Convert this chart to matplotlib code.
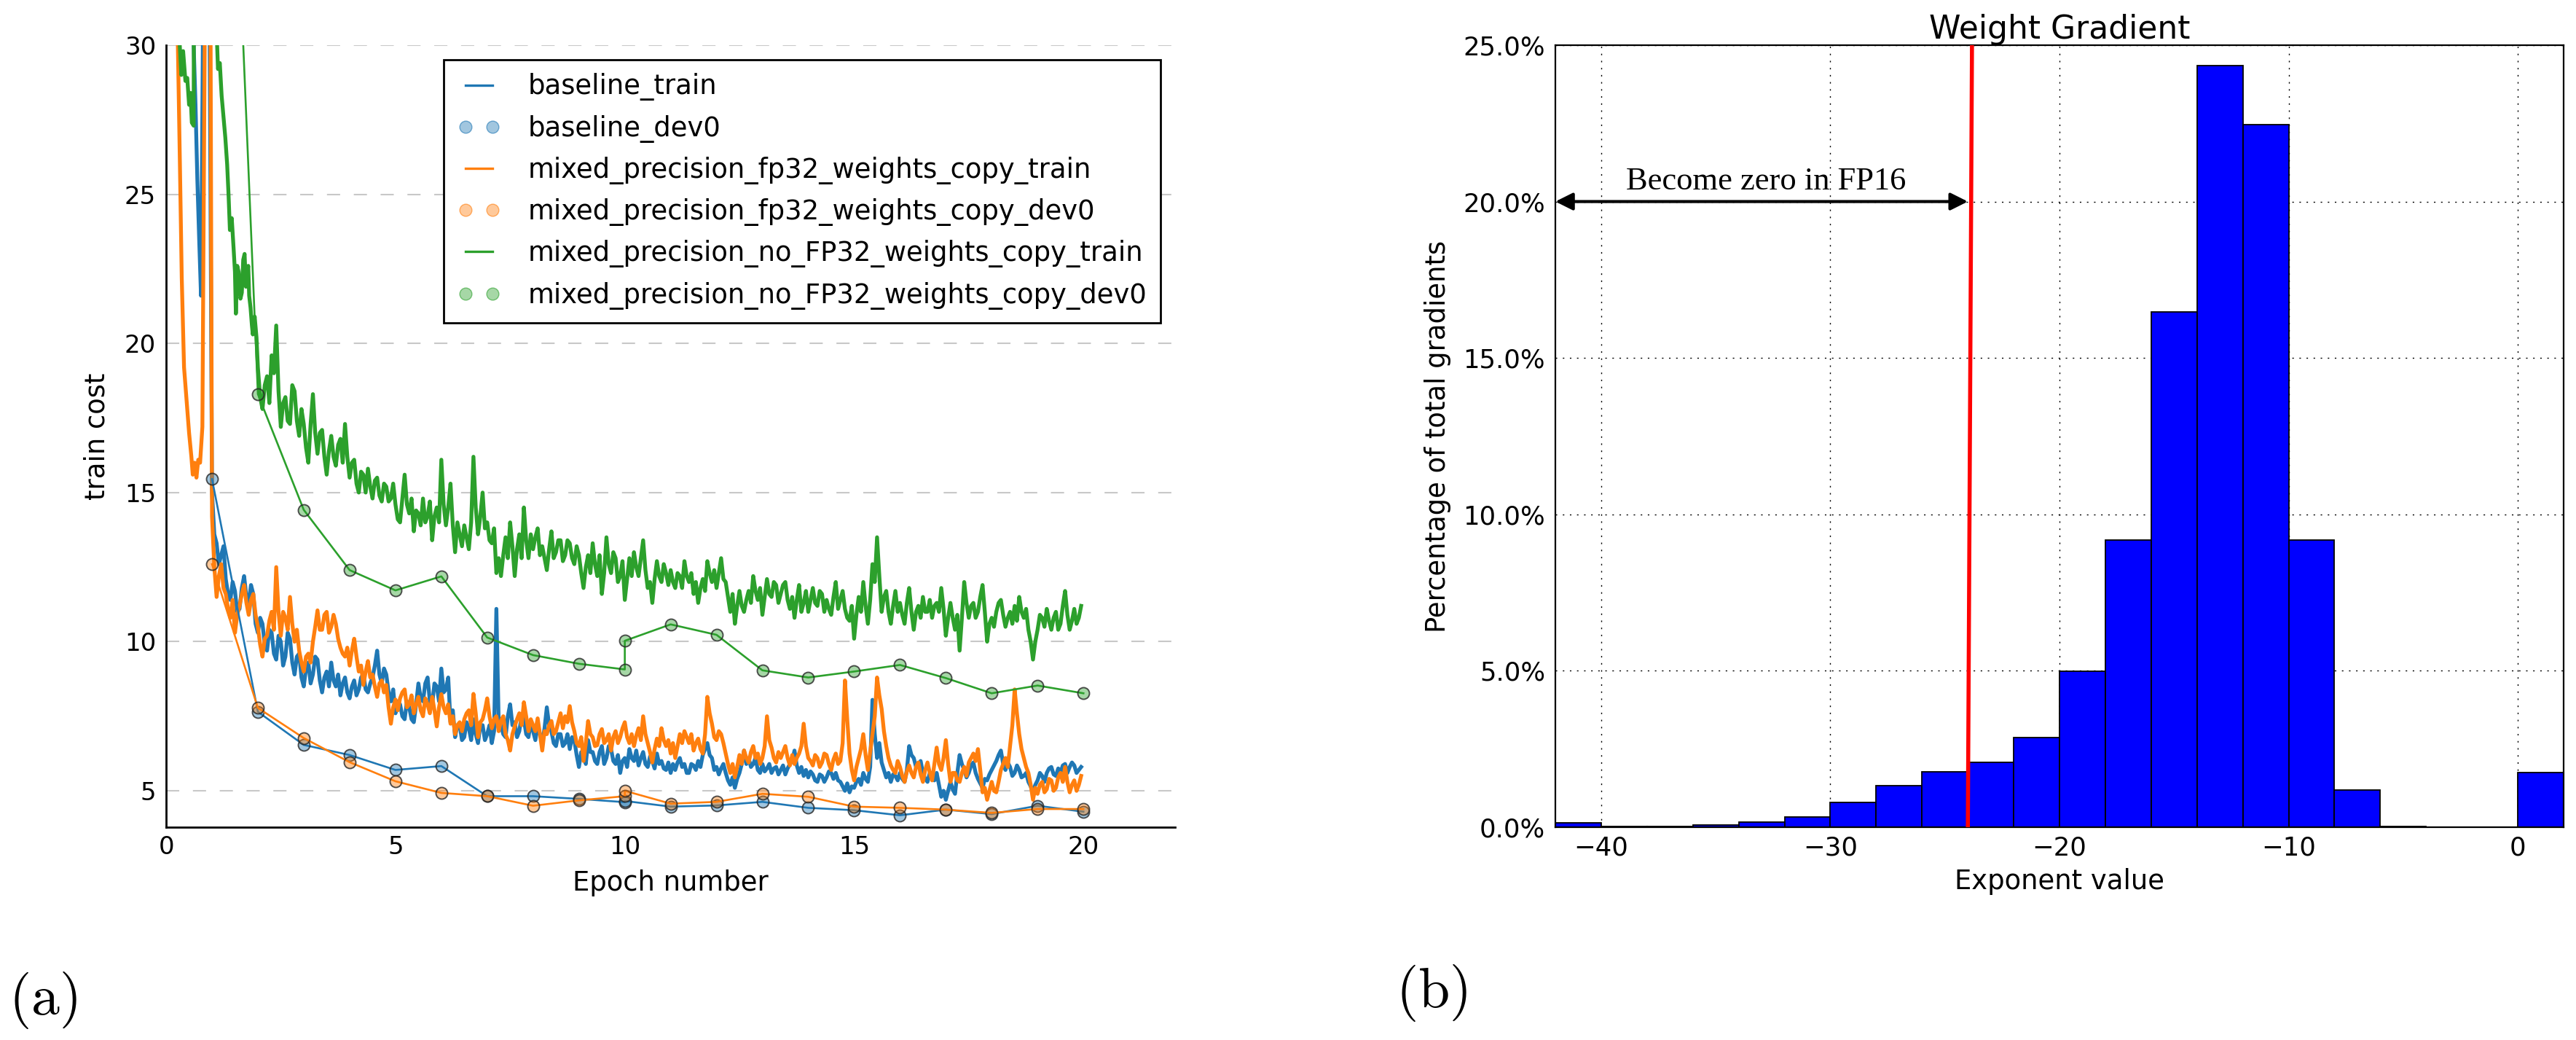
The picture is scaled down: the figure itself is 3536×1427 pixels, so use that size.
import numpy as np
import matplotlib
matplotlib.use('Agg')
import matplotlib.pyplot as plt
from matplotlib.lines import Line2D
from matplotlib.colors import to_rgba
from matplotlib.ticker import FuncFormatter

plt.rcParams['mathtext.fontset'] = 'cm'
plt.rcParams['lines.scale_dashes'] = False
plt.rcParams['font.family'] = ['DejaVu Sans']

# ---------------- data: panel (a) ----------------
epochs_main = np.round(np.arange(1.0, 19.95, 0.1), 2)      # 1.0 .. 19.9
epochs_main_mid = np.round(np.arange(1.05, 20.0, 0.1), 2)  # 1.05 .. 19.95
epochs_green = np.round(np.arange(2.0, 19.95, 0.1), 2)     # 2.0 .. 19.9
epochs_green_mid = np.round(np.arange(2.05, 20.0, 0.1), 2) # 2.05 .. 19.95

blue_early_x = [0.0, 0.2, 0.4, 0.5, 0.56, 0.6, 0.64, 0.68, 0.72, 0.76, 0.8, 0.85, 0.9, 0.95]
blue_early_y = [70, 52, 40, 35, 32, 30, 28, 25.5, 23.5, 21.6, 30, 48, 55, 30]

orange_early_x = [0.0, 0.15, 0.25, 0.3, 0.34, 0.39, 0.45, 0.5, 0.55, 0.58, 0.62, 0.66, 0.7,
                  0.74, 0.79, 0.84, 0.88, 0.92, 0.96]
orange_early_y = [90, 45, 30.5, 26, 22.2, 19.2, 18.0, 17.0, 16.2, 15.6, 16.0, 15.5, 16.1,
                  16.0, 17.2, 30, 55, 65, 35]

green_early_x = [0.0, 0.15, 0.25, 0.29, 0.33, 0.37, 0.42, 0.46, 0.5, 0.53, 0.56, 0.6, 0.62,
                 0.7, 0.8, 0.9, 1.0, 1.05, 1.1, 1.13, 1.17, 1.21, 1.25, 1.29, 1.33, 1.36,
                 1.39, 1.43, 1.47, 1.5, 1.52, 1.55, 1.58, 1.62, 1.65, 1.68, 1.71, 1.74,
                 1.76, 1.79, 1.81, 1.84, 1.87, 1.89, 1.93, 1.97]
green_early_y = [60, 40, 32, 30.2, 29.0, 29.8, 28.8, 28.9, 28.0, 28.4, 27.4, 27.3, 45,
                 80, 90, 70, 45, 35, 30.5, 29.2, 29.4, 28.3, 27.6, 26.9, 26.0, 25.0,
                 23.8, 24.2, 23.2, 22.4, 21.0, 22.6, 22.4, 21.5, 21.7, 22.8, 23.0, 21.9,
                 22.3, 22.6, 21.6, 21.2, 20.6, 20.3, 20.9, 20.2]

baseline_train = [
    15.0, 13.3, 12.9, 12.1, 11.4, 11.7, 11.1, 12.2, 11.3, 11.6,
    10.3, 10.6, 9.7, 10.3, 9.4, 10.0, 9.5, 10.1, 8.9, 9.6,
    8.5, 9.3, 8.9, 9.4, 8.3, 9.0, 9.3, 8.5, 8.2, 8.8,
    8.1, 8.7, 8.4, 8.9, 8.3, 8.8, 9.7, 8.6, 8.9, 8.0,
    7.6, 7.9, 7.4, 7.8, 7.3, 8.6, 8.0, 8.8, 7.9, 8.5,
    9.1, 8.4, 7.3, 6.8, 7.2, 6.8, 7.1, 7.4, 6.6, 7.2,
    6.9, 6.6, 11.1, 7.2, 6.8, 7.9, 7.3, 7.0, 7.4, 6.8,
    7.0, 7.2, 6.6, 7.8, 7.0, 6.5, 6.9, 6.6, 6.4, 6.7,
    5.8, 6.2, 6.7, 6.3, 5.9, 6.5, 6.1, 6.4, 5.9, 5.6,
    6.1, 6.4, 6.0, 5.85, 6.3, 5.8, 6.0, 6.25, 6.0, 5.7,
    5.6, 5.7, 6.1, 5.9, 5.6, 5.85, 6.0, 6.2, 6.6, 6.1,
    5.8, 5.75, 5.6, 5.2, 5.1, 5.6, 6.35, 6.1, 5.9, 5.7,
    5.9, 5.75, 5.6, 5.8, 5.7, 5.55, 5.9, 6.35, 5.6, 5.5,
    5.45, 5.55, 5.3, 5.5, 5.45, 5.6, 5.6, 5.3, 5.0, 4.95,
    5.1, 5.4, 5.6, 5.3, 8.05, 6.1, 5.95, 5.45, 5.3, 5.5,
    5.6, 5.3, 6.5, 6.1, 5.8, 5.6, 5.3, 5.5, 5.6, 4.8,
    4.7, 5.3, 4.9, 6.2, 5.7, 5.6, 5.95, 5.4, 5.1, 5.35,
    5.7, 6.0, 6.35, 5.7, 5.8, 5.6, 5.7, 5.5, 5.3, 4.95,
    5.35, 5.5, 5.6, 5.8, 5.5, 5.6, 5.9, 5.8, 5.85, 5.7]
baseline_train_mid = [
    13.6, 12.6, 13.2, 11.6, 12.0, 11.0, 11.8, 11.5, 11.9, 10.6,
    10.8, 9.9, 10.4, 9.6, 10.2, 9.2, 10.3, 9.3, 9.5, 8.8,
    9.1, 8.6, 9.5, 8.7, 8.8, 8.5, 8.7, 8.9, 8.6, 8.3,
    8.5, 8.2, 8.8, 8.4, 8.6, 9.2, 8.9, 9.1, 8.3, 8.4,
    8.0, 7.5, 8.0, 7.4, 7.9, 8.1, 8.6, 8.0, 8.6, 8.0,
    8.3, 8.8, 7.7, 7.2, 6.7, 7.3, 6.7, 6.9, 7.2, 6.7,
    7.2, 7.0, 7.3, 6.9, 7.5, 7.2, 6.8, 7.5, 6.9, 7.3,
    6.7, 6.9, 7.1, 7.2, 6.6, 6.9, 6.5, 6.9, 6.8, 6.2,
    6.3, 5.9, 6.3, 6.0, 6.3, 5.9, 6.5, 6.0, 6.2, 6.0,
    5.8, 6.1, 6.35, 6.1, 5.9, 6.15, 5.75, 5.9, 5.75, 5.95,
    5.9, 5.95, 5.8, 5.6, 5.9, 5.7, 5.8, 6.4, 6.2, 5.7,
    5.55, 5.9, 5.35, 5.45, 5.4, 5.9, 5.9, 5.8, 6.1, 5.6,
    5.65, 5.9, 5.75, 5.55, 5.85, 5.75, 6.0, 5.85, 5.8, 5.7,
    5.65, 5.35, 5.55, 5.3, 5.65, 5.4, 5.35, 5.15, 5.25, 5.15,
    5.3, 5.2, 5.4, 5.8, 6.9, 6.6, 5.7, 5.6, 5.55, 5.35,
    5.4, 5.7, 6.2, 5.8, 6.0, 5.4, 5.6, 5.35, 5.2, 5.0,
    5.0, 5.05, 5.6, 5.9, 5.45, 5.85, 5.6, 5.25, 5.4, 5.55,
    5.85, 6.2, 5.9, 5.95, 5.5, 5.85, 5.45, 5.6, 5.15, 5.2,
    5.6, 5.3, 5.75, 5.55, 5.75, 5.85, 5.6, 5.95, 5.6, 5.8]

fp32_copy_train = [
    14.2, 11.5, 12.6, 11.6, 10.8, 10.3, 11.2, 11.9, 10.9, 11.6,
    10.5, 9.5, 10.2, 11.0, 12.5, 10.2, 10.8, 11.5, 10.0, 9.7,
    9.0, 9.6, 10.0, 11.05, 10.4, 11.0, 10.5, 10.6, 9.8, 9.5,
    9.2, 10.1, 9.0, 8.55, 9.35, 8.9, 8.15, 8.7, 8.55, 7.25,
    8.06, 8.1, 8.4, 7.9, 7.6, 8.15, 7.5, 7.9, 8.15, 7.16,
    8.24, 7.6, 7.25, 6.9, 7.3, 7.4, 7.7, 8.25, 6.8, 7.4,
    8.1, 7.1, 7.5, 7.35, 6.9, 6.35, 7.16, 7.6, 7.97, 7.0,
    7.2, 7.43, 6.35, 6.9, 7.34, 7.0, 7.6, 7.5, 7.84, 7.0,
    6.5, 6.0, 7.34, 6.8, 6.53, 7.07, 6.7, 6.35, 7.0, 6.8,
    7.3, 6.6, 6.5, 7.1, 7.5, 6.6, 5.95, 6.75, 7.1, 6.5,
    6.25, 6.1, 6.9, 7.0, 6.6, 6.35, 6.75, 6.25, 8.15, 7.25,
    6.7, 6.9, 6.25, 5.6, 5.45, 6.2, 6.35, 5.95, 6.5, 6.25,
    6.1, 7.5, 6.45, 5.95, 6.1, 6.5, 5.85, 5.9, 6.25, 7.25,
    6.1, 5.85, 6.1, 5.95, 6.2, 5.7, 6.25, 6.0, 8.7, 6.25,
    5.35, 6.1, 6.9, 5.7, 6.9, 8.8, 7.75, 6.5, 5.85, 5.6,
    5.8, 5.3, 5.85, 5.45, 5.95, 5.3, 5.95, 5.35, 6.45, 5.7,
    6.7, 5.3, 5.6, 5.3, 5.8, 5.95, 6.25, 6.4, 4.95, 4.7,
    5.3, 4.95, 5.7, 6.1, 6.5, 8.4, 6.9, 6.1, 5.6, 4.7,
    4.9, 5.3, 5.05, 5.35, 5.1, 5.6, 5.8, 4.95, 5.35, 5.2]
fp32_copy_train_mid = [
    12.5, 12.2, 11.8, 11.1, 11.4, 10.9, 11.6, 11.3, 11.4, 10.9,
    9.9, 10.1, 10.7, 10.4, 11.0, 11.0, 10.4, 10.6, 10.4, 9.3,
    9.5, 9.3, 10.5, 10.4, 10.9, 10.3, 10.9, 10.1, 9.6, 9.8,
    9.7, 9.5, 9.2, 9.0, 8.8, 8.5, 8.6, 8.3, 7.8, 7.8,
    7.7, 8.3, 7.8, 8.2, 7.9, 7.7, 8.1, 7.6, 7.7, 7.8,
    7.8, 7.9, 7.5, 7.2, 7.0, 7.6, 7.2, 7.6, 7.3, 7.7,
    7.5, 7.4, 7.0, 7.5, 6.7, 6.9, 7.4, 7.2, 7.5, 7.4,
    7.0, 6.9, 7.0, 7.2, 6.9, 7.3, 7.1, 7.3, 7.3, 6.6,
    6.8, 6.6, 6.9, 6.5, 6.9, 6.6, 6.9, 6.8, 6.6, 7.1,
    6.8, 6.9, 6.85, 6.7, 6.9, 6.3, 6.4, 6.5, 6.7, 6.7,
    6.6, 6.5, 6.6, 6.8, 6.9, 6.6, 6.4, 6.9, 7.6, 6.8,
    7.0, 6.6, 5.9, 5.9, 5.8, 5.9, 6.1, 6.3, 6.1, 5.9,
    6.5, 6.7, 6.1, 6.3, 6.3, 6.1, 6.2, 6.1, 6.5, 6.5,
    6.0, 6.2, 5.8, 6.25, 5.9, 6.05, 5.9, 6.6, 7.4, 5.7,
    5.8, 6.4, 6.2, 6.3, 7.5, 8.2, 7.0, 6.1, 5.7, 6.0,
    5.5, 5.65, 5.6, 5.8, 5.55, 5.7, 5.6, 5.9, 5.9, 6.1,
    5.9, 5.6, 5.35, 5.6, 5.5, 6.1, 6.0, 5.7, 5.1, 5.0,
    5.0, 5.3, 5.9, 5.8, 7.2, 7.6, 6.4, 5.8, 5.2, 5.1,
    5.2, 4.95, 5.4, 5.0, 5.45, 5.3, 5.3, 5.2, 5.0, 5.5]

no_fp32_copy_train = [
    19.2, 17.8, 18.9, 19.6, 20.6, 17.2, 18.2, 17.3, 18.4, 16.9,
    17.3, 16.0, 18.3, 16.3, 17.1, 15.6, 16.9, 15.9, 16.8, 17.3,
    15.5, 16.1, 15.0, 15.6, 15.8, 14.8, 15.5, 14.7, 15.2, 14.8,
    14.6, 14.0, 15.6, 14.3, 13.7, 14.3, 14.8, 14.2, 13.4, 14.5,
    16.1, 13.9, 15.3, 13.0, 13.6, 13.9, 13.1, 16.2, 13.6, 15.0,
    14.0, 13.3, 12.3, 12.2, 13.5, 14.0, 12.2, 13.6, 14.5, 12.8,
    13.1, 13.8, 13.2, 12.4, 13.7, 13.0, 13.4, 12.9, 13.3, 12.6,
    12.9, 11.8, 12.9, 13.3, 12.2, 11.6, 13.5, 12.3, 12.8, 12.2,
    11.4, 12.8, 13.0, 12.2, 13.4, 11.8, 11.3, 12.7, 12.0, 12.3,
    12.4, 11.8, 12.2, 12.7, 12.0, 11.6, 11.3, 12.1, 12.7, 12.0,
    11.8, 12.8, 12.0, 11.0, 10.6, 11.7, 11.0, 11.7, 12.2, 11.4,
    10.9, 12.1, 11.5, 11.9, 11.6, 12.0, 11.1, 10.8, 11.9, 11.3,
    11.0, 11.8, 11.2, 11.6, 11.4, 10.9, 12.0, 11.4, 11.1, 10.7,
    10.1, 11.5, 12.0, 10.6, 12.6, 13.5, 11.0, 11.7, 10.6, 11.7,
    11.3, 10.6, 11.8, 10.4, 11.2, 11.5, 11.0, 10.8, 11.3, 11.8,
    10.2, 11.3, 10.4, 9.7, 12.0, 10.8, 11.3, 11.0, 11.9, 10.0,
    10.8, 11.0, 11.4, 10.5, 11.0, 11.2, 11.5, 10.8, 10.4, 9.4,
    10.4, 10.8, 11.1, 10.4, 11.0, 10.6, 11.7, 10.4, 11.1, 10.8]
no_fp32_copy_train_mid = [
    18.2, 18.6, 18.0, 19.0, 18.4, 18.0, 17.4, 18.6, 17.4, 17.8,
    16.5, 17.3, 17.0, 17.0, 16.2, 16.4, 16.2, 16.6, 16.0, 16.2,
    16.0, 15.3, 15.7, 15.0, 15.2, 15.4, 14.9, 15.3, 14.7, 15.3,
    14.1, 14.8, 14.6, 14.8, 14.4, 13.9, 14.0, 14.7, 14.2, 14.0,
    14.6, 14.5, 13.9, 14.0, 13.2, 13.5, 14.0, 14.5, 14.2, 13.8,
    13.4, 13.8, 12.8, 12.9, 12.8, 13.2, 13.1, 12.8, 13.4, 13.6,
    13.5, 12.9, 12.8, 13.1, 12.8, 13.4, 12.7, 13.4, 12.8, 13.2,
    12.3, 12.5, 12.3, 12.6, 12.9, 12.3, 12.6, 13.0, 12.0, 12.7,
    12.1, 12.2, 12.5, 12.8, 12.4, 12.0, 12.1, 12.2, 12.6, 11.9,
    12.0, 12.3, 11.8, 12.2, 12.3, 12.0, 11.8, 11.7, 12.3, 12.4,
    12.3, 12.1, 11.5, 11.6, 11.2, 11.2, 11.4, 11.3, 11.7, 11.8,
    11.5, 11.6, 12.0, 11.3, 11.9, 11.4, 11.5, 11.4, 11.0, 11.7,
    11.4, 11.3, 11.7, 11.0, 11.1, 11.5, 11.1, 11.7, 10.8, 11.2,
    10.9, 11.0, 11.2, 11.4, 12.0, 12.2, 11.5, 11.0, 11.2, 11.0,
    10.9, 11.3, 11.0, 11.0, 10.8, 11.0, 11.4, 11.2, 11.0, 11.1,
    10.8, 10.8, 10.9, 10.8, 11.3, 11.2, 10.8, 11.5, 11.0, 10.6,
    10.5, 11.3, 10.9, 10.8, 10.6, 10.7, 11.0, 11.1, 10.0, 10.0,
    10.9, 10.5, 10.7, 10.8, 10.4, 11.2, 10.9, 10.7, 10.6, 11.2]

dev_epochs = [1, 2, 3, 4, 5, 6, 7, 8, 9, 10, 10, 11, 12, 13, 14, 15, 16, 17, 18, 19, 20]
baseline_dev0 = [15.45, 7.65, 6.54, 6.2, 5.7, 5.83, 4.82, 4.82, 4.73, 4.62, 4.66,
                 4.47, 4.51, 4.63, 4.43, 4.35, 4.18, 4.37, 4.22, 4.5, 4.3]
fp32_copy_dev0 = [12.6, 7.78, 6.77, 5.96, 5.32, 4.93, 4.82, 4.5, 4.68, 4.82, 5.0,
                  4.57, 4.63, 4.9, 4.8, 4.47, 4.43, 4.37, 4.26, 4.39, 4.39]
no_fp32_copy_dev0 = [55, 18.3, 14.42, 12.4, 11.72, 12.19, 10.14, 9.55, 9.26, 9.07, 10.03,
                     10.58, 10.23, 9.04, 8.8, 9.0, 9.22, 8.78, 8.27, 8.53, 8.27]

legend_labels = ['baseline_train', 'baseline_dev0',
                 'mixed_precision_fp32_weights_copy_train',
                 'mixed_precision_fp32_weights_copy_dev0',
                 'mixed_precision_no_FP32_weights_copy_train',
                 'mixed_precision_no_FP32_weights_copy_dev0']

# ---------------- data: panel (b) ----------------
bin_left = list(range(-42, 2, 2))
grad_pct = [0.13, 0.02, 0.02, 0.06, 0.17, 0.32, 0.79, 1.32, 1.78, 2.08, 2.87,
            4.99, 9.18, 16.48, 24.34, 22.47, 9.18, 1.19, 0.03, 0.0, 0.0, 1.74]
fp16_limit_x = [-24.0, -23.82]
fp16_limit_y = [0.0, 25.0]
arrow_y = 20.0


def merge(early_x, early_y, x_a, y_a, x_b, y_b):
    """Join the early part with the two interleaved readings of the curve."""
    xs = np.empty(len(x_a) + len(x_b))
    ys = np.empty(len(y_a) + len(y_b))
    xs[0::2], xs[1::2] = x_a, x_b
    ys[0::2], ys[1::2] = y_a, y_b
    return np.concatenate([early_x, xs]), np.concatenate([early_y, ys])


# ---------------- figure ----------------
fig = plt.figure(figsize=(35.36, 14.27), dpi=100)
axL = fig.add_axes([0.0645, 0.2046, 0.3917, 0.752])
axR = fig.add_axes([0.6038, 0.2046, 0.3914, 0.752])

c_blue, c_orange, c_green = '#1f77b4', '#ff7f0e', '#2ca02c'
train_lw = 3.8
dev_lw = 1.9
ms = 11.5


def dev_kw(c):
    return dict(marker='o', ms=ms, mfc=to_rgba(c, 0.42), mec=(0.15, 0.15, 0.15, 0.8), mew=1.4)


bx, by = merge(blue_early_x, blue_early_y, epochs_main, baseline_train,
               epochs_main_mid, baseline_train_mid)
ox, oy = merge(orange_early_x, orange_early_y, epochs_main, fp32_copy_train,
               epochs_main_mid, fp32_copy_train_mid)
gx, gy = merge(green_early_x, green_early_y, epochs_green, no_fp32_copy_train,
               epochs_green_mid, no_fp32_copy_train_mid)

axL.plot(bx, by, color=c_blue, lw=train_lw, zorder=2)
axL.plot(dev_epochs, baseline_dev0, color=c_blue, lw=dev_lw, zorder=3, **dev_kw(c_blue))
axL.plot(ox, oy, color=c_orange, lw=train_lw, zorder=2)
axL.plot(dev_epochs, fp32_copy_dev0, color=c_orange, lw=dev_lw, zorder=3, **dev_kw(c_orange))
axL.plot(gx, gy, color=c_green, lw=train_lw, zorder=2)
axL.plot(dev_epochs, no_fp32_copy_dev0, color=c_green, lw=dev_lw, zorder=3, **dev_kw(c_green))

axL.set_xlim(0, 22)
axL.set_ylim(3.78, 30)
axL.set_xticks([0, 5, 10, 15, 20])
axL.set_yticks([5, 10, 15, 20, 25, 30])
for s in ['top', 'right']:
    axL.spines[s].set_visible(False)
for s in ['left', 'bottom']:
    axL.spines[s].set_linewidth(2.0)
axL.tick_params(axis='both', length=0, labelsize=24.5)
axL.tick_params(axis='y', pad=10)
axL.tick_params(axis='x', pad=8)
axL.yaxis.grid(True, color='#c8c8c8', lw=1.5, ls=(0, (13, 13.5)))
axL.set_axisbelow(True)
axL.set_xlabel('Epoch number', fontsize=26.6, labelpad=10)
axL.set_ylabel('train cost', fontsize=26.6, labelpad=14)

colors = [c_blue, c_orange, c_green]
handles = []
for c in colors:
    handles.append(Line2D([], [], color=c, lw=2.4))
    handles.append(Line2D([], [], ls='none', marker='o', ms=12, mfc=to_rgba(c, 0.42),
                          mec=to_rgba(c, 0.6), mew=1.0))
leg = axL.legend(handles, legend_labels, loc='upper right',
                 bbox_to_anchor=(1593 / 3536, 1 - 82 / 1427), bbox_transform=fig.transFigure,
                 fontsize=26.6, frameon=True, fancybox=False, edgecolor='black',
                 borderpad=0.5, labelspacing=0.52, handlelength=1.6, handletextpad=1.03,
                 numpoints=2, borderaxespad=0, framealpha=1)
leg.get_frame().set_linewidth(2.0)

# ---------------- panel (b) ----------------
axR.bar(bin_left, grad_pct, width=2, align='edge', color='#0000ff', edgecolor='black',
        linewidth=1.3, zorder=2)
axR.plot(fp16_limit_x, fp16_limit_y, color='#ff0000', lw=4, zorder=3, solid_capstyle='butt')
axR.annotate('', xy=(bin_left[0], arrow_y), xytext=(fp16_limit_x[0], arrow_y),
             arrowprops=dict(arrowstyle='<|-|>,head_length=0.4,head_width=0.2',
                             mutation_scale=36, color='black', lw=3, shrinkA=0, shrinkB=0),
             zorder=4, annotation_clip=False)
axR.text(-32.8, 20.65, 'Become zero in FP16', family=['Liberation Serif', 'DejaVu Serif'],
         fontsize=32, ha='center', va='center', zorder=5)
axR.set_xlim(-42, 2)
axR.set_ylim(0, 25)
axR.set_xticks([-40, -30, -20, -10, 0])
axR.set_yticks([0, 5, 10, 15, 20, 25])
axR.yaxis.set_major_formatter(FuncFormatter(lambda v, p: f'{v:.1f}%'))
axR.grid(True, color='black', lw=1.0, ls=(0, (1.5, 5.5)))
axR.set_axisbelow(True)
for s in axR.spines.values():
    s.set_linewidth(1.6)
axR.tick_params(axis='both', length=0, labelsize=25.6)
axR.tick_params(axis='y', pad=10)
axR.tick_params(axis='x', pad=8)
axR.set_title('Weight Gradient', fontsize=31.7, pad=6)
axR.set_xlabel('Exponent value', fontsize=26.6, labelpad=8)
axR.set_ylabel('Percentage of total gradients', fontsize=26.6, labelpad=12)

# ---------------- captions ----------------
fig.text(12 / 3536, 1 - 1373 / 1427, r'$\mathrm{(a)}$', fontsize=56, ha='left', va='center')
fig.text(1916 / 3536, 1 - 1363 / 1427, r'$\mathrm{(b)}$', fontsize=56, ha='left', va='center')

fig.savefig('out.png', dpi=100)
